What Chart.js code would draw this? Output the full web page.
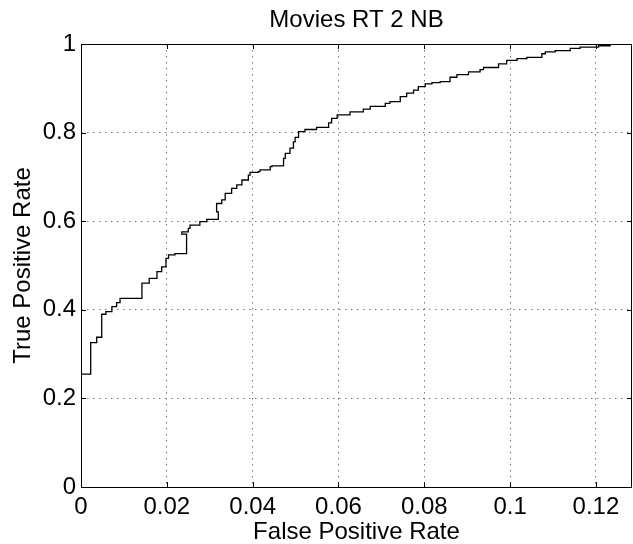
<!DOCTYPE html>
<html>
<head>
<meta charset="utf-8">
<script src="https://cdn.jsdelivr.net/npm/chart.js@4"></script>
<style>
  body { margin: 0; background: #fff; }
  #wrap { width: 633px; height: 544px; }
</style>
</head>
<body>
<div id="wrap"><canvas id="chartRoc" width="633" height="544"></canvas></div>
<script>
// ROC curve
const fprValues = [0, 0, 0.00226, 0.00226, 0.00366, 0.00366, 0.00483, 0.00483, 0.0058, 0.0072, 0.0083, 0.0091,
    0.0107, 0.0142, 0.0142, 0.0159, 0.0177, 0.0188, 0.0198, 0.0204, 0.0219, 0.0246, 0.0235, 0.025,
    0.0254, 0.0277, 0.0293, 0.032, 0.0316, 0.0328, 0.0336, 0.0351, 0.0363, 0.0375, 0.039, 0.0394,
    0.0413, 0.0417, 0.0441, 0.0445, 0.0472, 0.0476, 0.0487, 0.0495, 0.0499, 0.0507, 0.0522, 0.0549,
    0.0577, 0.0584, 0.0597, 0.0627, 0.0658, 0.0674, 0.0709, 0.072, 0.0744, 0.0759, 0.0775, 0.0786,
    0.0802, 0.0818, 0.0837, 0.086, 0.0876, 0.0903, 0.093, 0.0938, 0.0973, 0.0992, 0.1016, 0.1039,
    0.1074, 0.1082, 0.1105, 0.114, 0.1163, 0.1206, 0.1233, 0.126, 0.1284];
const tprValues = [0, 0.255, 0.255, 0.326, 0.326, 0.338, 0.338, 0.383, 0.39, 0.396, 0.407, 0.416,
    0.426, 0.426, 0.45, 0.46, 0.471, 0.486, 0.497, 0.516, 0.524, 0.527, 0.571, 0.576,
    0.584, 0.591, 0.599, 0.604, 0.621, 0.64, 0.648, 0.663, 0.674, 0.682, 0.693, 0.704,
    0.71, 0.712, 0.716, 0.723, 0.725, 0.742, 0.753, 0.765, 0.779, 0.789, 0.802, 0.807,
    0.812, 0.822, 0.832, 0.84, 0.847, 0.853, 0.859, 0.866, 0.87, 0.881, 0.889, 0.896,
    0.904, 0.91, 0.913, 0.915, 0.925, 0.931, 0.937, 0.942, 0.947, 0.955, 0.963, 0.967,
    0.97, 0.978, 0.982, 0.985, 0.99, 0.993, 0.996, 0.9995, 1.0];

const xTicks = [0, 0.02, 0.04, 0.06, 0.08, 0.1, 0.12];
const yTicks = [0, 0.2, 0.4, 0.6, 0.8, 1];
const xMax = 0.1284;

const chartTitle = "Movies RT 2 NB";
const xTitle = "False Positive Rate";
const yTitle = "True Positive Rate";

const fontFamily = "'Liberation Sans', Arial, Helvetica, sans-serif";

let points = fprValues.map((x, i) => ({x: x, y: tprValues[i]}));

// matlab style box, inward ticks and title
const boxPlugin = {
    id: "box",
    afterDraw(chart) {
        const ctx = chart.ctx;
        const a = chart.chartArea;
        const xs = chart.scales.x;
        const ys = chart.scales.y;
        ctx.save();
        ctx.strokeStyle = "#000";
        ctx.lineWidth = 1;
        ctx.strokeRect(a.left + 0.5, a.top + 0.5, a.right - a.left - 1, a.bottom - a.top);
        ctx.beginPath();
        xTicks.forEach(v => {
            let px = Math.round(xs.getPixelForValue(v)) + 0.5;
            ctx.moveTo(px, a.bottom); ctx.lineTo(px, a.bottom - 5);
            ctx.moveTo(px, a.top); ctx.lineTo(px, a.top + 5);
        });
        yTicks.forEach(v => {
            let py = Math.round(ys.getPixelForValue(v)) + 0.5;
            ctx.moveTo(a.left, py); ctx.lineTo(a.left + 5, py);
            ctx.moveTo(a.right, py); ctx.lineTo(a.right - 5, py);
        });
        ctx.stroke();
        ctx.fillStyle = "#000";
        ctx.font = "24px " + fontFamily;
        ctx.textAlign = "center";
        ctx.textBaseline = "middle";
        ctx.fillText(chartTitle, (a.left + a.right) / 2, 20);
        ctx.restore();
    }
};

new Chart(document.getElementById("chartRoc"), {
    type: "line",
    data: {
        datasets: [{
            data: points,
            borderColor: "#000",
            borderWidth: 1.3,
            pointRadius: 0,
            fill: false,
            stepped: "after",
            tension: 0
        }]
    },
    options: {
        responsive: false,
        animation: false,
        layout: { padding: { top: 44, right: 1, left: 0, bottom: 0 } },
        plugins: {
            legend: { display: false },
            tooltip: { enabled: false }
        },
        scales: {
            x: {
                type: "linear",
                min: 0,
                max: xMax,
                afterFit: s => { s.height = 57; },
                afterBuildTicks: s => { s.ticks = xTicks.map(v => ({value: v})); },
                ticks: {
                    color: "#000",
                    padding: 6,
                    maxRotation: 0,
                    font: { size: 24, family: fontFamily },
                    callback: v => String(+v.toFixed(4))
                },
                grid: { color: "#777", drawTicks: false, lineWidth: 1 },
                border: { display: false, dash: [1.5, 4.5] },
                title: {
                    display: true,
                    text: xTitle,
                    color: "#000",
                    padding: { top: 1, bottom: 1 },
                    font: { size: 24, family: fontFamily, lineHeight: 0.9 }
                }
            },
            y: {
                min: 0,
                max: 1,
                afterFit: s => { s.width = 81; },
                afterBuildTicks: s => { s.ticks = yTicks.map(v => ({value: v})); },
                ticks: {
                    color: "#000",
                    padding: 5,
                    font: { size: 24, family: fontFamily },
                    callback: v => String(+v.toFixed(4))
                },
                grid: { color: "#777", drawTicks: false, lineWidth: 1 },
                border: { display: false, dash: [1.5, 4.5] },
                title: {
                    display: true,
                    text: yTitle,
                    color: "#000",
                    padding: { top: 9, bottom: 0 },
                    font: { size: 24, family: fontFamily }
                }
            }
        }
    },
    plugins: [boxPlugin]
});
</script>
</body>
</html>
